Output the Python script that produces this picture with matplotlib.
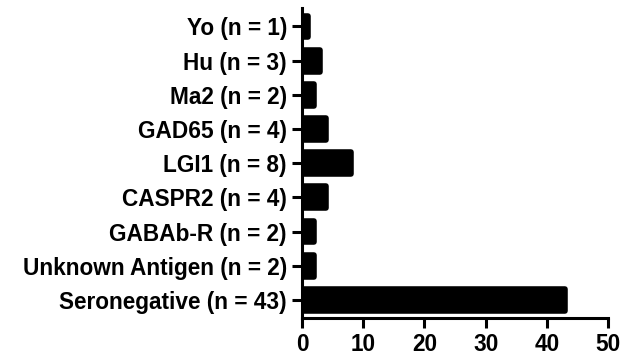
import matplotlib
matplotlib.use('Agg')
import matplotlib.pyplot as plt

# categories, bottom to top
labels = ['Seronegative (n = 43)', 'Unknown Antigen (n = 2)', 'GABAb-R (n = 2)',
          'CASPR2 (n = 4)', 'LGI1 (n = 8)', 'GAD65 (n = 4)', 'Ma2 (n = 2)',
          'Hu (n = 3)', 'Yo (n = 1)']
counts = [43, 2, 2, 4, 8, 4, 2, 3, 1]
xticks = [0, 10, 20, 30, 40, 50]

plt.rcParams['font.family'] = ['Liberation Sans', 'DejaVu Sans']
plt.rcParams['font.weight'] = 'bold'

fig = plt.figure(figsize=(6.22, 3.58), dpi=100)
ax = fig.add_axes([0.4855, 0.1117, 0.492, 0.866])

ax.barh(range(len(counts)), counts, height=0.64, color='black',
        edgecolor='black', linewidth=4, joinstyle='round')

ax.set_xlim(0, 50)
ax.set_ylim(-0.53, 8.54)
ax.set_xticks(xticks)
ax.set_yticks(range(len(labels)))
ax.set_yticklabels(labels)

for s in ['top', 'right']:
    ax.spines[s].set_visible(False)
for s in ['left', 'bottom']:
    ax.spines[s].set_linewidth(2.2)

ax.tick_params(axis='both', length=7.2, width=2.2, labelsize=16.3, pad=3.6)
for lab in ax.get_xticklabels() + ax.get_yticklabels():
    lab.set_fontweight('bold')

fig.savefig('out.png', dpi=100)
